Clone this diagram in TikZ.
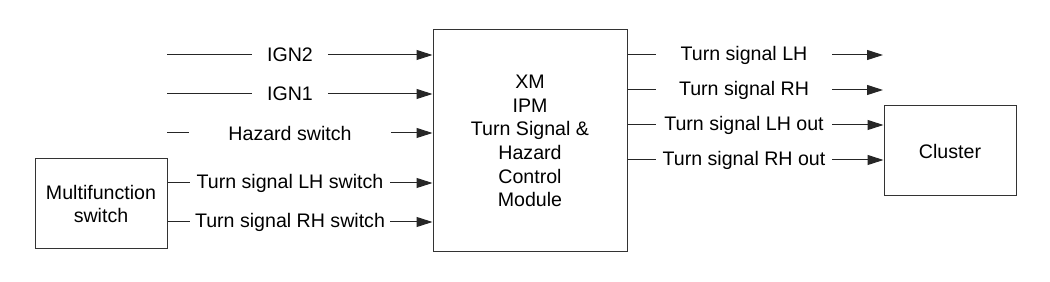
\documentclass[tikz,border=0pt]{standalone}
\usepackage{fontspec}
\setmainfont{Liberation Sans}
\usetikzlibrary{arrows.meta}

\begin{document}
\begin{tikzpicture}[x=0.5pt, y=-0.5pt]
  %
  \def\px{0.5pt}
  %
  \tikzset{
    unit/.style={draw=black!80, line width=0.5pt, align=center, inner sep=0pt,
                 font=\fontsize{9.8}{11.8}\selectfont},
    sig/.style={inner sep=0pt, minimum height=16*\px, font=\fontsize{9.8}{11.8}\selectfont},
    wire/.style={line width=0.5pt, draw=black!85},
    feed/.style={wire, -{Triangle[length=8pt, width=5pt]}},
  }
  %
  % === CANVAS ===
  \useasboundingbox (0,0) rectangle (1050,282);
  %
  % === BOXES ===
  \node[unit, minimum width=132*\px, minimum height=90*\px] (mfswitch) at (101,204)
    {Multifunction\\switch};
  \node[unit, minimum width=194*\px, minimum height=222*\px] (tsmodule) at (530,141)
    {XM\\IPM\\Turn Signal \&\\Hazard\\Control\\Module};
  \node[unit, minimum width=132*\px, minimum height=90*\px] (cluster) at (950,151)
    {Cluster};
  %
  % === INPUTS: FEEDS -> MODULE ===
  \foreach \n/\yy/\gap/\txt in {1/55/75/IGN2, 2/94/75/IGN1, 3/133/201/Hazard switch} {
    \coordinate (src\n) at (167,\yy);
    \node[sig, minimum width=\gap*\px] (in\n) at (290,\yy) {\txt};
    \draw[wire] (src\n) -- (in\n.west);
    \draw[feed] (in\n.east) -- (tsmodule.west |- in\n);
  }
  %
  % === INPUTS: MULTIFUNCTION SWITCH -> MODULE ===
  \foreach \n/\yy/\txt in {4/183/Turn signal LH switch, 5/222/Turn signal RH switch} {
    \node[sig, minimum width=200*\px] (in\n) at (290,\yy) {\txt};
    \draw[wire] (mfswitch.east |- in\n) -- (in\n.west);
    \draw[feed] (in\n.east) -- (tsmodule.west |- in\n);
  }
  %
  % === OUTPUTS: MODULE -> (open ends) ===
  \foreach \n/\yy/\txt in {1/55/Turn signal LH, 2/90/Turn signal RH} {
    \coordinate (dst\n) at (883,\yy);
    \node[sig, minimum width=176*\px] (out\n) at (744,\yy) {\txt};
    \draw[wire] (tsmodule.east |- out\n) -- (out\n.west);
    \draw[feed] (out\n.east) -- (dst\n);
  }
  %
  % === OUTPUTS: MODULE -> CLUSTER ===
  \foreach \n/\yy/\txt in {3/125/Turn signal LH out, 4/160/Turn signal RH out} {
    \node[sig, minimum width=176*\px] (out\n) at (744,\yy) {\txt};
    \draw[wire] (tsmodule.east |- out\n) -- (out\n.west);
    \draw[feed] (out\n.east) -- (cluster.west |- out\n);
  }
  %
\end{tikzpicture}
\end{document}
